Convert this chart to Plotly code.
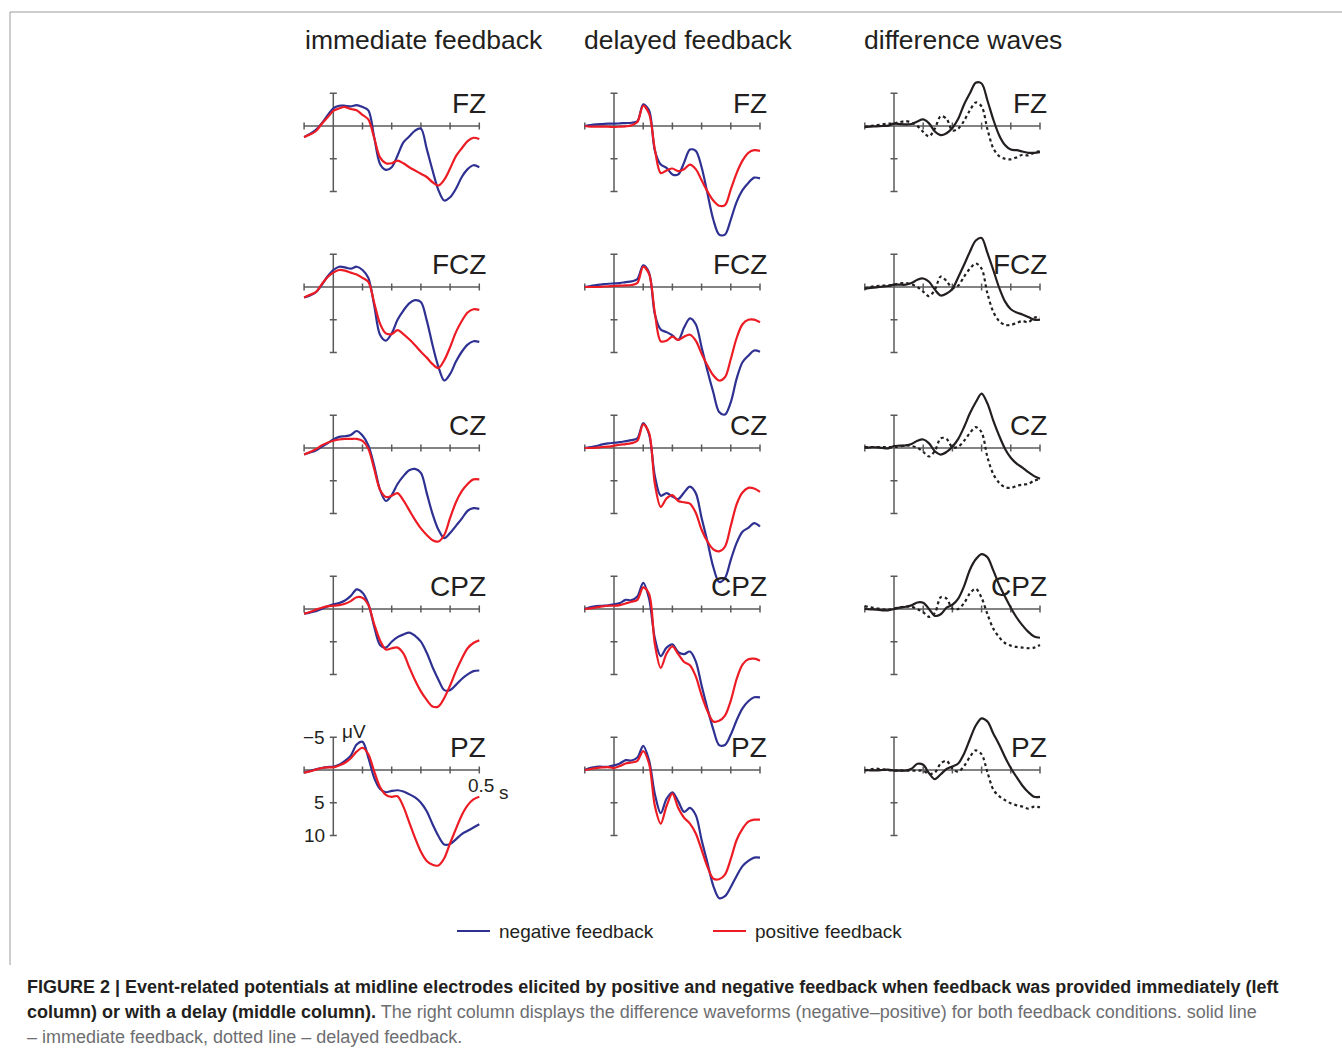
import plotly.graph_objects as go

# ---------------- data (μV, negative plotted upward) ----------------
T = [-0.10, -0.08, -0.06, -0.04, -0.02, 0.00, 0.02, 0.04, 0.06, 0.08, 0.10,
     0.12, 0.14, 0.16, 0.18, 0.20, 0.22, 0.24, 0.26, 0.28, 0.30,
     0.32, 0.34, 0.36, 0.38, 0.40, 0.42, 0.44, 0.46, 0.48, 0.50]

ELECTRODES = ["FZ", "FCZ", "CZ", "CPZ", "PZ"]
COLUMN_TITLES = ["immediate feedback", "delayed feedback", "difference waves"]
LEGEND_LABELS = ["negative feedback", "positive feedback"]
X_TICKS = [-0.1, 0.1, 0.2, 0.3, 0.4, 0.5]
Y_TICKS = [-5, 5, 10]
Y_TICK_LABELS = ["\u22125", "5", "10"]

# immediate feedback
IMM_NEG_FZ = [1.7, 1.2, 0.6, -0.4, -1.6, -2.7, -3.1, -3.1, -3.0, -3.2, -2.9, -2.4, 1.7, 5.8, 6.7, 6.3, 4.5, 2.5, 1.6, 0.7, 0.4, 3.5, 6.8, 9.8, 11.4, 10.9, 9.6, 7.8, 6.6, 6.0, 6.3]
IMM_POS_FZ = [1.7, 1.3, 0.8, -0.3, -1.3, -2.3, -2.7, -2.9, -2.6, -2.4, -1.7, -1.0, 1.8, 4.8, 5.7, 5.7, 5.3, 5.7, 6.3, 6.8, 7.3, 7.8, 8.6, 9.1, 8.2, 6.5, 4.6, 3.4, 2.3, 1.8, 2.0]
IMM_NEG_FCZ = [1.6, 1.3, 0.8, -0.3, -1.6, -2.6, -3.1, -3.0, -2.8, -3.1, -2.6, -1.4, 2.8, 7.3, 8.2, 7.1, 5.0, 3.6, 2.5, 2.0, 2.3, 5.1, 8.9, 12.2, 14.3, 13.3, 11.4, 9.9, 8.8, 8.3, 8.4]
IMM_POS_FCZ = [1.6, 1.2, 0.8, -0.4, -1.5, -2.2, -2.6, -2.5, -2.2, -1.9, -1.4, -0.8, 2.4, 5.6, 7.1, 7.2, 6.6, 7.2, 8.0, 8.9, 9.9, 10.8, 11.8, 12.4, 11.2, 9.2, 6.9, 5.2, 3.9, 3.4, 3.5]
IMM_NEG_CZ = [1.0, 0.7, 0.4, -0.2, -0.7, -1.3, -1.7, -1.8, -2.0, -2.6, -1.9, -0.4, 2.7, 6.4, 8.1, 7.2, 5.5, 4.3, 3.4, 3.2, 3.8, 6.9, 10.1, 12.5, 13.8, 13.0, 11.9, 10.8, 9.6, 9.2, 9.3]
IMM_POS_CZ = [1.0, 0.6, 0.2, -0.4, -0.8, -1.1, -1.3, -1.4, -1.4, -1.4, -1.1, 0.1, 3.2, 6.4, 7.5, 7.3, 6.9, 8.0, 9.5, 11.0, 12.3, 13.3, 14.1, 14.3, 13.3, 10.7, 8.3, 6.6, 5.5, 4.8, 4.8]
IMM_NEG_CPZ = [0.7, 0.55, 0.35, 0.0, -0.4, -0.7, -0.9, -1.3, -2.0, -3.0, -2.5, -0.8, 2.7, 5.5, 5.9, 5.0, 4.3, 3.9, 3.6, 4.1, 5.0, 6.7, 8.9, 10.8, 12.4, 12.4, 11.6, 10.7, 10.0, 9.5, 9.4]
IMM_POS_CPZ = [0.7, 0.45, 0.1, -0.2, -0.4, -0.5, -0.6, -0.8, -1.2, -1.8, -1.7, -0.6, 2.3, 4.8, 6.2, 6.0, 5.9, 6.8, 8.9, 10.9, 12.6, 13.9, 14.9, 14.9, 13.6, 11.7, 9.5, 7.6, 6.0, 5.2, 4.8]
IMM_NEG_PZ = [0.4, 0.15, -0.1, -0.3, -0.45, -0.5, -0.8, -1.4, -2.2, -3.9, -4.3, -1.9, 1.2, 2.9, 3.4, 3.2, 3.1, 3.3, 3.7, 4.2, 5.0, 6.3, 8.3, 10.1, 11.4, 11.3, 10.6, 9.8, 9.3, 8.8, 8.3]
IMM_POS_PZ = [0.4, 0.2, -0.05, -0.3, -0.4, -0.4, -0.7, -1.1, -1.8, -2.8, -3.4, -2.4, 0.2, 2.6, 3.8, 4.1, 4.0, 5.6, 8.0, 10.4, 12.5, 13.9, 14.5, 14.6, 13.5, 11.2, 9.0, 6.9, 5.4, 4.5, 4.1]

# delayed feedback
DEL_NEG_FZ = [0.0, -0.15, -0.25, -0.3, -0.35, -0.35, -0.4, -0.45, -0.5, -0.7, -3.3, -2.4, 3.8, 5.9, 6.4, 7.4, 7.4, 5.6, 3.6, 3.8, 6.3, 10.3, 14.3, 16.6, 16.6, 14.3, 11.6, 9.8, 8.7, 7.9, 8.0]
DEL_POS_FZ = [0.0, 0.1, 0.1, 0.1, 0.1, 0.15, 0.1, 0.05, -0.1, -0.6, -3.1, -1.9, 3.6, 7.2, 6.8, 6.5, 6.9, 6.6, 5.9, 6.6, 8.3, 10.0, 11.4, 12.2, 12.1, 9.7, 7.2, 5.3, 4.1, 3.7, 3.8]
DEL_NEG_FCZ = [0.0, -0.15, -0.3, -0.4, -0.5, -0.55, -0.6, -0.75, -0.85, -1.2, -3.3, -2.2, 4.2, 6.5, 6.9, 7.4, 8.1, 6.2, 4.8, 5.7, 9.2, 12.8, 16.1, 19.1, 19.5, 17.6, 14.0, 11.5, 10.5, 9.7, 9.9]
DEL_POS_FCZ = [0.0, 0.0, 0.0, -0.05, -0.1, -0.15, -0.2, -0.25, -0.3, -0.6, -3.1, -2.0, 4.0, 8.3, 8.2, 7.6, 8.1, 7.6, 7.3, 8.2, 10.2, 12.0, 13.5, 14.3, 13.8, 11.0, 7.8, 5.7, 5.0, 5.0, 5.4]
DEL_NEG_CZ = [0.0, -0.15, -0.3, -0.55, -0.7, -0.8, -0.9, -1.05, -1.2, -1.5, -3.8, -2.1, 4.3, 7.3, 6.9, 7.4, 7.8, 6.8, 5.9, 6.9, 10.7, 14.3, 18.2, 20.5, 19.9, 17.1, 14.5, 12.8, 12.2, 11.5, 12.0]
DEL_POS_CZ = [0.0, 0.0, -0.05, -0.15, -0.2, -0.35, -0.5, -0.6, -0.75, -1.1, -3.6, -2.3, 5.5, 9.0, 7.7, 7.2, 8.1, 8.3, 8.5, 9.9, 12.5, 14.3, 15.5, 15.8, 15.1, 11.9, 8.6, 6.8, 6.1, 6.2, 6.7]
DEL_NEG_CPZ = [0.0, -0.3, -0.45, -0.5, -0.55, -0.7, -0.9, -1.4, -1.35, -1.9, -4.0, -1.6, 4.5, 7.2, 5.9, 5.4, 6.6, 6.9, 6.5, 8.0, 11.7, 15.2, 18.4, 20.8, 20.8, 19.2, 17.0, 15.2, 14.1, 13.5, 13.5]
DEL_POS_CPZ = [0.0, -0.1, -0.25, -0.4, -0.5, -0.5, -0.6, -0.85, -1.1, -1.4, -3.3, -2.3, 5.4, 9.0, 6.8, 5.7, 6.9, 8.1, 8.6, 10.3, 13.2, 15.6, 17.2, 17.1, 16.3, 14.0, 10.7, 8.5, 7.7, 7.6, 7.9]
DEL_NEG_PZ = [0.0, -0.35, -0.5, -0.5, -0.5, -0.7, -1.0, -1.5, -1.45, -1.9, -3.7, -1.5, 3.7, 6.6, 4.4, 3.4, 4.8, 6.4, 5.8, 6.9, 10.7, 14.2, 17.7, 19.6, 19.3, 17.9, 16.2, 14.7, 13.9, 13.4, 13.4]
DEL_POS_PZ = [0.0, -0.15, -0.3, -0.4, -0.45, -0.3, -0.6, -1.0, -1.15, -1.4, -2.9, -1.0, 5.5, 8.2, 5.5, 3.6, 5.8, 7.3, 8.2, 9.7, 12.2, 14.8, 16.6, 16.7, 16.0, 13.6, 10.7, 9.0, 7.9, 7.6, 7.6]

# difference waves (negative - positive): solid = immediate, dotted = delayed
DIFF_IMM_FZ = [0.15, 0.1, 0.05, 0.0, -0.05, -0.35, -0.3, -0.25, -0.3, -0.7, -1.0, -0.4, 0.85, 1.4, 1.1, 0.3, -1.1, -3.3, -5.0, -6.6, -6.5, -3.9, -1.0, 1.4, 2.9, 3.6, 3.7, 3.9, 4.1, 4.1, 4.0]
DIFF_DEL_FZ = [0.15, 0.0, -0.1, -0.25, -0.35, -0.4, -0.6, -0.75, -0.5, 0.0, 0.9, 1.6, 0.4, -1.5, -1.1, 0.7, 0.4, -0.8, -2.4, -3.6, -3.0, 0.5, 3.4, 4.6, 5.0, 5.1, 4.8, 4.4, 4.5, 4.1, 3.8]
DIFF_IMM_FCZ = [0.25, 0.15, 0.05, -0.05, -0.15, -0.35, -0.35, -0.35, -0.6, -1.1, -1.3, -0.8, 0.4, 1.3, 1.0, 0.3, -1.5, -3.4, -5.4, -7.1, -7.5, -5.2, -2.6, 0.1, 2.2, 3.4, 3.9, 4.2, 4.6, 5.0, 5.0]
DIFF_DEL_FCZ = [0.25, 0.0, -0.15, -0.2, -0.25, -0.35, -0.55, -0.6, -0.4, 0.0, 0.7, 1.4, 0.4, -1.6, -0.9, 0.15, -0.2, -1.6, -2.8, -3.6, -2.8, 1.0, 3.8, 5.2, 5.8, 5.8, 5.5, 5.2, 5.4, 4.7, 4.6]
DIFF_IMM_CZ = [0.0, -0.1, -0.1, 0.0, 0.05, -0.3, -0.35, -0.4, -0.6, -1.1, -1.3, -0.7, 0.5, 1.0, 0.6, -0.2, -1.4, -3.2, -5.3, -7.0, -8.3, -6.8, -4.2, -1.9, 0.1, 1.5, 2.4, 3.0, 3.7, 4.3, 4.7]
DIFF_DEL_CZ = [-0.15, -0.15, -0.15, -0.15, -0.15, -0.15, -0.25, -0.4, -0.3, -0.05, 0.6, 1.3, 0.45, -1.5, -1.4, -0.1, -0.2, -1.1, -2.3, -3.2, -2.4, 1.4, 4.0, 5.3, 6.0, 6.1, 5.8, 5.6, 5.5, 5.0, 4.8]
DIFF_IMM_CPZ = [0.0, 0.05, 0.1, 0.2, 0.2, 0.0, -0.2, -0.35, -0.55, -1.0, -0.95, 0.0, 1.05, 0.8, -0.2, -0.65, -1.6, -3.5, -6.0, -7.6, -8.4, -7.9, -5.9, -3.7, -1.9, -0.2, 1.3, 2.5, 3.5, 4.2, 4.4]
DIFF_DEL_CPZ = [-0.45, -0.25, -0.1, 0.05, 0.1, -0.1, -0.25, -0.35, -0.35, 0.0, 0.5, 1.2, 0.6, -1.8, -1.6, -0.05, 0.0, -0.9, -2.4, -3.1, -1.7, 0.8, 3.0, 4.3, 5.2, 5.6, 5.8, 5.9, 6.0, 5.9, 5.5]
DIFF_IMM_PZ = [0.0, 0.05, 0.05, 0.0, -0.05, 0.1, 0.1, 0.1, -0.2, -0.95, -0.8, 0.5, 1.4, 0.65, -0.15, -0.55, -1.0, -2.5, -4.7, -6.8, -7.9, -7.4, -5.6, -3.9, -2.0, -0.3, 1.1, 2.4, 3.4, 4.1, 4.1]
DIFF_DEL_PZ = [0.1, -0.1, -0.2, -0.1, 0.0, 0.1, 0.1, 0.1, 0.1, 0.1, 0.1, 0.6, 0.4, -1.0, -1.4, -0.2, 0.25, -0.6, -2.0, -3.0, -2.4, 0.35, 3.0, 4.0, 4.6, 5.1, 5.4, 5.6, 5.9, 5.6, 5.7]

IMMEDIATE = {"FZ": (IMM_NEG_FZ, IMM_POS_FZ), "FCZ": (IMM_NEG_FCZ, IMM_POS_FCZ),
             "CZ": (IMM_NEG_CZ, IMM_POS_CZ), "CPZ": (IMM_NEG_CPZ, IMM_POS_CPZ),
             "PZ": (IMM_NEG_PZ, IMM_POS_PZ)}
DELAYED = {"FZ": (DEL_NEG_FZ, DEL_POS_FZ), "FCZ": (DEL_NEG_FCZ, DEL_POS_FCZ),
           "CZ": (DEL_NEG_CZ, DEL_POS_CZ), "CPZ": (DEL_NEG_CPZ, DEL_POS_CPZ),
           "PZ": (DEL_NEG_PZ, DEL_POS_PZ)}
DIFFERENCE = {"FZ": (DIFF_IMM_FZ, DIFF_DEL_FZ), "FCZ": (DIFF_IMM_FCZ, DIFF_DEL_FCZ),
              "CZ": (DIFF_IMM_CZ, DIFF_DEL_CZ), "CPZ": (DIFF_IMM_CPZ, DIFF_DEL_CPZ),
              "PZ": (DIFF_IMM_PZ, DIFF_DEL_PZ)}

# ---------------- styling / geometry ----------------
W, H = 1342, 1053
COL_T0 = [333.3, 614.0, 894.0]          # pixel x of t = 0 in each column
ROW_Y0 = [126.0, 287.0, 448.0, 609.0, 770.0]  # pixel y of 0 μV in each row
PX_PER_S = 292.0
PX_PER_UV = 6.54
X_RANGE = [-0.13, 0.64]
Y_RANGE = [22.0, -9.0]   # reversed: negative up

BLUE = "#2e3192"
RED = "#ed1c24"
BLACK = "#231f20"
AXIS = "#5a5a5c"
LINE_W = 2.2
SANS = "Liberation Sans, Arial, sans-serif"

TICK_UV = 3.5 / PX_PER_UV
TICK_S = 3.5 / PX_PER_S


def fx(px):
    return px / W


def fy(py):
    return 1 - py / H


fig = go.Figure()
axes = {}
shapes = []
annotations = []

for r, el in enumerate(ELECTRODES):
    for c in range(3):
        n = r * 3 + c + 1
        xa = "x" if n == 1 else f"x{n}"
        ya = "y" if n == 1 else f"y{n}"
        xkey = "xaxis" if n == 1 else f"xaxis{n}"
        ykey = "yaxis" if n == 1 else f"yaxis{n}"
        x_dom = [fx(COL_T0[c] + X_RANGE[0] * PX_PER_S), fx(COL_T0[c] + X_RANGE[1] * PX_PER_S)]
        y_bot = ROW_Y0[r] + Y_RANGE[0] * PX_PER_UV
        y_top = ROW_Y0[r] + Y_RANGE[1] * PX_PER_UV
        axes[xkey] = dict(domain=x_dom, range=X_RANGE, visible=False, anchor=ya, fixedrange=True)
        axes[ykey] = dict(domain=[fy(y_bot), fy(y_top)], range=Y_RANGE, visible=False,
                          anchor=xa, fixedrange=True)

        axis_line = dict(color=AXIS, width=1.5)
        shapes.append(dict(type="line", xref=xa, yref=ya, x0=X_TICKS[0], x1=X_TICKS[-1],
                           y0=0, y1=0, line=axis_line, layer="below"))
        shapes.append(dict(type="line", xref=xa, yref=ya, x0=0, x1=0,
                           y0=Y_TICKS[0], y1=Y_TICKS[-1], line=axis_line, layer="below"))
        for tx in X_TICKS:
            shapes.append(dict(type="line", xref=xa, yref=ya, x0=tx, x1=tx,
                               y0=-TICK_UV, y1=TICK_UV, line=axis_line, layer="below"))
        for ty in Y_TICKS:
            shapes.append(dict(type="line", xref=xa, yref=ya, x0=-TICK_S, x1=TICK_S,
                               y0=ty, y1=ty, line=axis_line, layer="below"))

        if c == 0:
            series = [(IMMEDIATE[el][0], BLUE, "solid"), (IMMEDIATE[el][1], RED, "solid")]
        elif c == 1:
            series = [(DELAYED[el][0], BLUE, "solid"), (DELAYED[el][1], RED, "solid")]
        else:
            series = [(DIFFERENCE[el][0], BLACK, "solid"), (DIFFERENCE[el][1], BLACK, "dot")]
        for vals, col, dash in series:
            fig.add_trace(go.Scatter(
                x=T, y=vals, mode="lines", xaxis=xa, yaxis=ya, showlegend=False,
                hoverinfo="skip",
                line=dict(color=col, width=LINE_W, dash=dash, shape="spline", smoothing=0.9)))

        annotations.append(dict(text=el, x=0.53, y=-3.5, xref=xa, yref=ya,
                                xanchor="right", yanchor="middle", showarrow=False,
                                font=dict(family=SANS, size=28, color=BLACK)))

        if r == len(ELECTRODES) - 1 and c == 0:
            for ty, lab in zip(Y_TICKS, Y_TICK_LABELS):
                annotations.append(dict(text=lab, x=-0.02, y=ty, xref=xa, yref=ya,
                                        xanchor="right", yanchor="middle", showarrow=False,
                                        font=dict(family=SANS, size=19, color=BLACK)))
            annotations.append(dict(text="\u03bcV", x=0.022, y=-5.9, xref=xa, yref=ya,
                                    xanchor="left", yanchor="middle", showarrow=False,
                                    font=dict(family=SANS, size=19, color=BLACK)))
            annotations.append(dict(text="0.5", x=0.506, y=2.4, xref=xa, yref=ya,
                                    xanchor="center", yanchor="middle", showarrow=False,
                                    font=dict(family=SANS, size=19, color=BLACK)))
            annotations.append(dict(text="s", x=0.585, y=3.4, xref=xa, yref=ya,
                                    xanchor="center", yanchor="middle", showarrow=False,
                                    font=dict(family=SANS, size=19, color=BLACK)))

# column titles
for title, cx in zip(COLUMN_TITLES, [424, 688, 963]):
    annotations.append(dict(text=title, x=fx(cx), y=fy(40), xref="paper", yref="paper",
                            xanchor="center", yanchor="middle", showarrow=False,
                            font=dict(family=SANS, size=26.5, color=BLACK)))

# legend
for lab, col, x_line in zip(LEGEND_LABELS, [BLUE, RED], [457, 713]):
    shapes.append(dict(type="line", xref="paper", yref="paper", x0=fx(x_line), x1=fx(x_line + 33),
                       y0=fy(931), y1=fy(931), line=dict(color=col, width=2)))
    annotations.append(dict(text=lab, x=fx(x_line + 40), y=fy(931), xref="paper", yref="paper",
                            xanchor="left", yanchor="middle", showarrow=False,
                            font=dict(family=SANS, size=19, color=BLACK)))

# frame
shapes.append(dict(type="line", xref="paper", yref="paper", x0=fx(10), x1=1, y0=fy(12), y1=fy(12),
                   line=dict(color="#9a9a9a", width=1)))
shapes.append(dict(type="line", xref="paper", yref="paper", x0=fx(10), x1=fx(10), y0=fy(12), y1=fy(965),
                   line=dict(color="#9a9a9a", width=1)))

# caption
GREY = "#6d6e71"
caption_lines = [
    "<b>FIGURE 2 | Event-related potentials at midline electrodes elicited by positive and negative "
    "feedback when feedback was provided immediately (left</b>",
    "<b>column) or with a delay (middle column).</b> <span style='color:%s'>The right column displays "
    "the difference waveforms (negative\u2013positive) for both feedback conditions. solid line</span>" % GREY,
    "<span style='color:%s'>\u2013 immediate feedback, dotted line \u2013 delayed feedback.</span>" % GREY,
]
for line, cy in zip(caption_lines, [987, 1012, 1037]):
    annotations.append(dict(text=line, x=fx(25), y=fy(cy), xref="paper", yref="paper",
                            xanchor="left", yanchor="middle", showarrow=False, align="left",
                            font=dict(family=SANS, size=18, color=BLACK)))

fig.update_layout(width=W, height=H, margin=dict(l=0, r=0, t=0, b=0),
                  paper_bgcolor="white", plot_bgcolor="rgba(0,0,0,0)",
                  shapes=shapes, annotations=annotations, showlegend=False, **axes)

fig.write_html("out.html", config={"displayModeBar": False},
               post_script="document.body.style.margin='0px';document.body.style.overflow='hidden';")
